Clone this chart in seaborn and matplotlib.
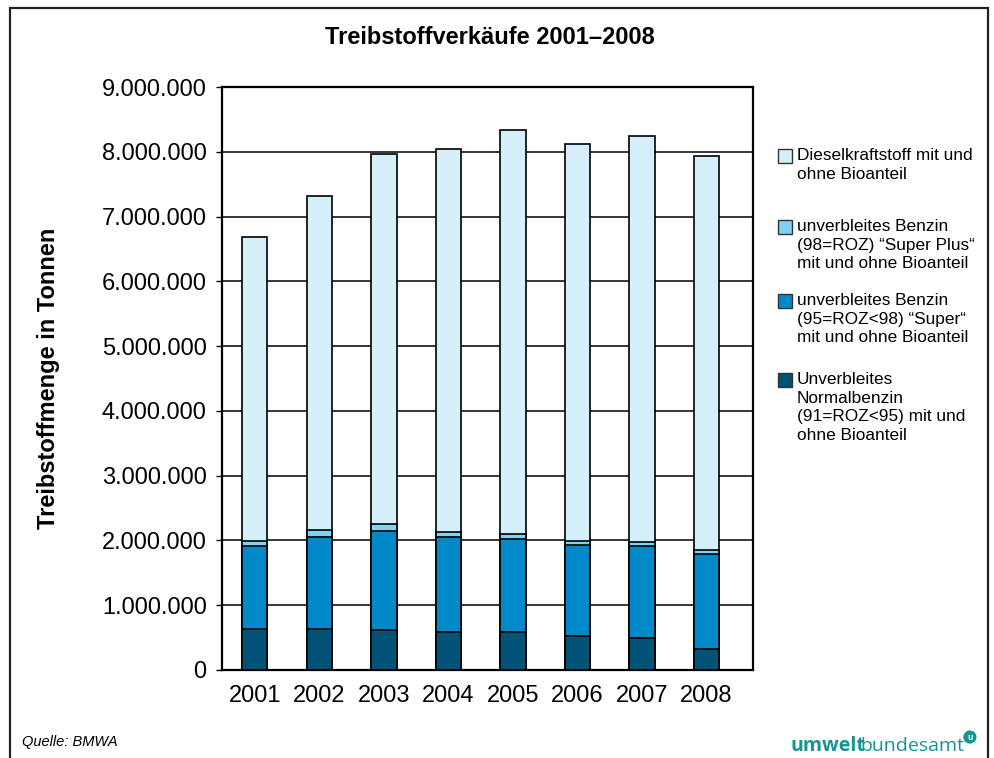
import pandas as pd
import matplotlib.pyplot as plt
import seaborn as sns
from matplotlib.patches import Rectangle

years = ['2001', '2002', '2003', '2004', '2005', '2006', '2007', '2008']
# Tonnen je Kraftstoffart (Werte aus der Grafik geschätzt)
normal = [628000, 632000, 617000, 582000, 582000, 530000, 489000, 324000]
super_ = [1285000, 1420000, 1523000, 1475000, 1435000, 1399000, 1424000, 1471000]
super_plus = [82000, 113000, 108000, 77000, 77000, 62000, 62000, 52000]
diesel = [4683000, 5145000, 5715000, 5916000, 6236000, 6123000, 6275000, 6083000]

labels = [
    'Dieselkraftstoff mit und\nohne Bioanteil',
    'unverbleites Benzin\n(98=ROZ) \u201cSuper Plus\u201c\nmit und ohne Bioanteil',
    'unverbleites Benzin\n(95=ROZ<98) \u201cSuper\u201c\nmit und ohne Bioanteil',
    'Unverbleites\nNormalbenzin\n(91=ROZ<95) mit und\nohne Bioanteil',
]
colors = ['#d5f0fb', '#80d1f4', '#0089c8', '#005277']

df = pd.DataFrame({'Jahr': years, 'normal': normal, 'super': super_,
                   'super_plus': super_plus, 'diesel': diesel})
df['c_normal'] = df['normal']
df['c_super'] = df['c_normal'] + df['super']
df['c_super_plus'] = df['c_super'] + df['super_plus']
df['c_diesel'] = df['c_super_plus'] + df['diesel']

sns.set_theme(style='white')
plt.rcParams['font.family'] = ['Liberation Sans', 'DejaVu Sans']
plt.rcParams['text.color'] = 'black'
plt.rcParams['axes.labelcolor'] = 'black'
plt.rcParams['xtick.color'] = 'black'
plt.rcParams['ytick.color'] = 'black'

fig = plt.figure(figsize=(9.94, 7.58), dpi=100)
ax = fig.add_axes([222 / 994, 88 / 758, 531 / 994, 583 / 758])

# gestapelt: größte Summe zuerst, dann darüber die kleineren
for col, color in zip(['c_diesel', 'c_super_plus', 'c_super', 'c_normal'], colors):
    sns.barplot(data=df, x='Jahr', y=col, color=color, width=0.39,
                edgecolor='black', linewidth=1.2, saturation=1, ax=ax, zorder=3)

ax.set_xlim(-0.51, 7.72)
ax.set_ylim(0, 9000000)
ax.set_yticks(range(0, 9000001, 1000000))
ax.set_yticklabels(['0' if v == 0 else f'{v:,}'.replace(',', '.') for v in range(0, 9000001, 1000000)])
ax.yaxis.grid(True, color='black', linewidth=1.1, zorder=0)
ax.set_axisbelow(True)
for s in ax.spines.values():
    s.set_color('black')
    s.set_linewidth(1.6)
ax.tick_params(axis='y', labelsize=17, length=4, width=1, color='black', pad=7, left=True)
ax.tick_params(axis='x', labelsize=17, length=0, pad=11)
ax.set_xlabel('')
ax.set_ylabel('Treibstoffmenge in Tonnen', fontsize=17, fontweight='bold', labelpad=30)

fig.text(490 / 994, 1 - 38 / 758, 'Treibstoffverkäufe 2001\u20132008', ha='center', va='center',
         fontsize=17, fontweight='bold')

# Legende
tops = [149, 220, 294, 373]
for lab, color, top in zip(labels, colors, tops):
    fig.patches.append(Rectangle((778 / 994, 1 - (top + 14) / 758), 14 / 994, 14 / 758,
                                 transform=fig.transFigure, facecolor=color,
                                 edgecolor='#333333', linewidth=1))
    fig.text(797 / 994, 1 - (top - 1) / 758, lab, ha='left', va='top', fontsize=12.4,
             linespacing=1.3)

fig.text(22 / 994, 1 - 742 / 758, 'Quelle: BMWA', ha='left', va='center', fontsize=10.5,
         style='italic')

teal = '#15958f'
t1 = fig.text(790 / 994, 1 - 751 / 758, 'umwelt', ha='left', va='baseline', fontsize=14,
              fontweight='bold', color=teal, family='Open Sans')
fig.canvas.draw()
bb = t1.get_window_extent()
t2 = fig.text((bb.x1 - 4) / 994, 1 - 751 / 758, 'bundesamt', ha='left', va='baseline', fontsize=14,
              color=teal, family='Open Sans')
bb2 = t2.get_window_extent()
fig.text((bb2.x1 + 5) / 994, 1 - 737 / 758, 'u', ha='center', va='center', fontsize=6,
         fontweight='bold', color='white', family='Open Sans',
         bbox=dict(boxstyle='circle,pad=0.25', facecolor=teal, edgecolor='none'))

# äußerer Rahmen
fig.patches.append(Rectangle((10 / 994, -0.01), 978 / 994, 1.01 - 8 / 758,
                             transform=fig.transFigure, fill=False,
                             edgecolor='#222222', linewidth=1.6))

fig.savefig('out.png', dpi=100)
